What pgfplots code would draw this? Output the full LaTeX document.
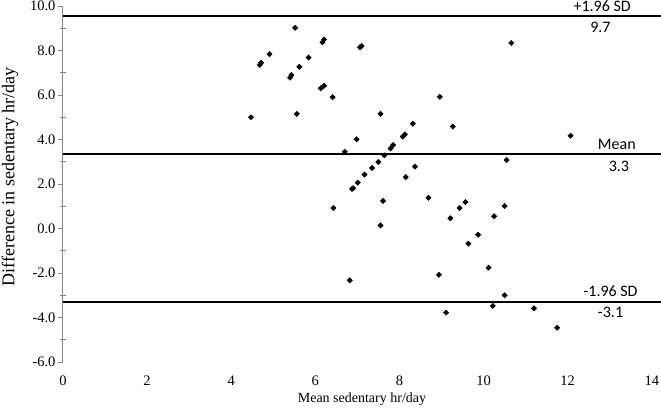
\documentclass[border=0pt]{standalone}
\usepackage{fontspec}
\setmainfont{Liberation Serif}
\newfontfamily\calibri{Carlito}
\usepackage{pgfplots}
\pgfplotsset{compat=1.18}
\definecolor{AxisGray}{HTML}{868686}

\begin{document}
\begin{tikzpicture}
\begin{axis}[
 name=ax,
 scale only axis,
 width=598pt, height=356pt,
 xmin=0, xmax=14.22, ymin=-6, ymax=10,
 axis lines*=left,
 x axis line style={draw=none},
 y axis line style={AxisGray, line width=1pt},
 xtick={0,2,...,14}, xtick style={draw=none},
 ytick={-6,-4,...,10}, minor y tick num=1,
 ytick style={AxisGray, line width=1pt},
 minor y tick style={AxisGray, line width=1pt, xshift=3pt},
 tick align=outside,
 major tick length=5pt, minor tick length=6pt,
 /pgf/number format/assume math mode=true,
 yticklabel style={xshift=1pt, /pgf/number format/.cd, fixed, fixed zerofill, precision=1},
 tick label style={font=\fontsize{14.5}{16}\selectfont},
 xticklabel style={yshift=-5pt},
 xlabel style={font=\fontsize{14}{16}\selectfont, yshift=-1pt},
 ylabel style={font=\fontsize{18}{20}\selectfont, at={(ticklabel cs:0.52)}, yshift=5pt},
 xlabel={Mean sedentary hr/day},
 ylabel={Difference in sedentary hr/day},
 clip=false,
]
% differences against means
\addplot[only marks, mark=square*, mark size=1.9pt,
 mark options={rotate=45, fill=black, draw=black}] coordinates {
 (4.47,5.00) (4.68,7.35) (4.71,7.45) (4.91,7.84) (5.40,6.78) (5.43,6.90)
 (5.52,9.02) (5.56,5.15) (5.62,7.27) (5.84,7.68) (6.13,6.30) (6.21,6.42)
 (6.17,8.37) (6.21,8.50) (6.41,5.90) (6.43,0.92) (6.70,3.45) (6.82,-2.33)
 (6.87,1.78) (6.90,1.81) (6.98,4.01) (7.01,2.06) (7.06,8.14) (7.10,8.20)
 (7.17,2.42) (7.35,2.72) (7.50,2.99) (7.55,5.15) (7.55,0.14) (7.61,1.24)
 (7.64,3.29) (7.79,3.60) (7.85,3.75) (8.08,4.13) (8.13,4.23) (8.15,2.31)
 (8.32,4.71) (8.37,2.78) (8.69,1.38) (8.94,-2.08) (8.96,5.92) (9.11,-3.78)
 (9.21,0.46) (9.27,4.58) (9.43,0.92) (9.57,1.19) (9.64,-0.68) (9.87,-0.28)
 (10.12,-1.76) (10.22,-3.48) (10.25,0.55) (10.50,1.01) (10.50,-3.00) (10.55,3.08)
 (10.66,8.34) (11.20,-3.59) (11.75,-4.46) (12.07,4.17)
};
% limits of agreement and mean
\addplot[black, line width=1.2pt] coordinates {(0,9.55) (14.22,9.55)};
\addplot[black, line width=1.2pt] coordinates {(0,3.35) (14.22,3.35)};
\addplot[black, line width=1.2pt] coordinates {(0,-3.30) (14.22,-3.30)};
\node[font=\calibri\fontsize{16}{18}\selectfont, yshift=10pt] at (axis cs:12.82,9.55) {+1.96 SD};
\node[font=\calibri\fontsize{16}{18}\selectfont, yshift=-11pt] at (axis cs:12.78,9.55) {9.7};
\node[font=\calibri\fontsize{16}{18}\selectfont, yshift=10pt] at (axis cs:13.17,3.35) {Mean};
\node[font=\calibri\fontsize{16}{18}\selectfont, yshift=-12pt] at (axis cs:13.22,3.35) {3.3};
\node[font=\calibri\fontsize{16}{18}\selectfont, yshift=11pt] at (axis cs:13.02,-3.30) {-1.96 SD};
\node[font=\calibri\fontsize{16}{18}\selectfont, yshift=-10pt] at (axis cs:13.02,-3.30) {-3.1};
\end{axis}
\pgfresetboundingbox
\path[use as bounding box] ([xshift=-63pt,yshift=-51pt]ax.south west) rectangle ([yshift=6pt]ax.north east);
\end{tikzpicture}
\end{document}
